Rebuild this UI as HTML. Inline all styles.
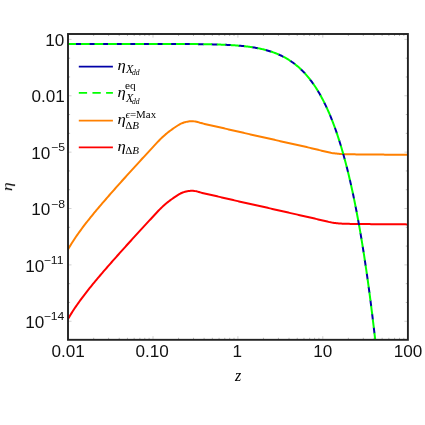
<!DOCTYPE html>
<html><head><meta charset="utf-8"><title>plot</title>
<style>
html,body{margin:0;padding:0;background:#fff;}
body{width:425px;height:425px;position:relative;overflow:hidden;font-family:"Liberation Sans",sans-serif;color:#111;}
.t{position:absolute;white-space:nowrap;line-height:1;will-change:transform;transform-origin:50% 50%;}
.tk{font-family:"Liberation Sans",sans-serif;}
.m{font-family:"Liberation Serif",serif;color:#000;}
.i{font-style:italic;}
</style></head><body>
<svg width="425" height="425" viewBox="0 0 425 425" style="position:absolute;left:0;top:0">
<defs><clipPath id="c"><rect x="68.0" y="34.0" width="339.9" height="305.8"/></clipPath></defs>
<path d="M68.0,39.40h3.5 M407.9,39.40h-3.5 M68.0,95.77h3.5 M407.9,95.77h-3.5 M68.0,152.14h3.5 M407.9,152.14h-3.5 M68.0,208.51h3.5 M407.9,208.51h-3.5 M68.0,264.88h3.5 M407.9,264.88h-3.5 M68.0,321.25h3.5 M407.9,321.25h-3.5 M153.00,339.8v-3.6 M153.00,34.0v3.6 M237.90,339.8v-3.6 M237.90,34.0v3.6 M322.80,339.8v-3.6 M322.80,34.0v3.6" stroke="#a0a0a0" stroke-width="0.5" fill="none"/>
<path d="M68.0,58.19h2.1 M407.9,58.19h-2.1 M68.0,76.98h2.1 M407.9,76.98h-2.1 M68.0,114.56h2.1 M407.9,114.56h-2.1 M68.0,133.35h2.1 M407.9,133.35h-2.1 M68.0,170.93h2.1 M407.9,170.93h-2.1 M68.0,189.72h2.1 M407.9,189.72h-2.1 M68.0,227.30h2.1 M407.9,227.30h-2.1 M68.0,246.09h2.1 M407.9,246.09h-2.1 M68.0,283.67h2.1 M407.9,283.67h-2.1 M68.0,302.46h2.1 M407.9,302.46h-2.1 M93.66,339.8v-2.0 M93.66,34.0v2.0 M108.61,339.8v-2.0 M108.61,34.0v2.0 M119.21,339.8v-2.0 M119.21,34.0v2.0 M127.44,339.8v-2.0 M127.44,34.0v2.0 M134.17,339.8v-2.0 M134.17,34.0v2.0 M139.85,339.8v-2.0 M139.85,34.0v2.0 M144.77,339.8v-2.0 M144.77,34.0v2.0 M149.12,339.8v-2.0 M149.12,34.0v2.0 M178.56,339.8v-2.0 M178.56,34.0v2.0 M193.51,339.8v-2.0 M193.51,34.0v2.0 M204.11,339.8v-2.0 M204.11,34.0v2.0 M212.34,339.8v-2.0 M212.34,34.0v2.0 M219.07,339.8v-2.0 M219.07,34.0v2.0 M224.75,339.8v-2.0 M224.75,34.0v2.0 M229.67,339.8v-2.0 M229.67,34.0v2.0 M234.02,339.8v-2.0 M234.02,34.0v2.0 M263.46,339.8v-2.0 M263.46,34.0v2.0 M278.41,339.8v-2.0 M278.41,34.0v2.0 M289.01,339.8v-2.0 M289.01,34.0v2.0 M297.24,339.8v-2.0 M297.24,34.0v2.0 M303.97,339.8v-2.0 M303.97,34.0v2.0 M309.65,339.8v-2.0 M309.65,34.0v2.0 M314.57,339.8v-2.0 M314.57,34.0v2.0 M318.92,339.8v-2.0 M318.92,34.0v2.0 M348.36,339.8v-2.0 M348.36,34.0v2.0 M363.31,339.8v-2.0 M363.31,34.0v2.0 M373.91,339.8v-2.0 M373.91,34.0v2.0 M382.14,339.8v-2.0 M382.14,34.0v2.0 M388.87,339.8v-2.0 M388.87,34.0v2.0 M394.55,339.8v-2.0 M394.55,34.0v2.0 M399.47,339.8v-2.0 M399.47,34.0v2.0 M403.82,339.8v-2.0 M403.82,34.0v2.0" stroke="#707070" stroke-width="0.5" fill="none"/>
<g clip-path="url(#c)" fill="none" stroke-linejoin="round">
<path d="M66.80,321.16 L67.95,319.13 L69.10,317.16 L70.24,315.25 L71.39,313.39 L72.54,311.58 L73.69,309.80 L74.83,308.07 L75.98,306.37 L77.13,304.71 L78.28,303.08 L79.43,301.47 L80.57,299.89 L81.72,298.33 L82.87,296.80 L84.02,295.28 L85.17,293.79 L86.31,292.31 L87.46,290.85 L88.61,289.40 L89.76,287.96 L90.90,286.54 L92.05,285.13 L93.20,283.72 L94.35,282.33 L95.50,280.95 L96.64,279.58 L97.79,278.21 L98.94,276.85 L100.09,275.50 L101.23,274.15 L102.38,272.81 L103.53,271.47 L104.68,270.14 L105.83,268.82 L106.97,267.50 L108.12,266.18 L109.27,264.87 L110.42,263.56 L111.57,262.26 L112.71,260.95 L113.86,259.65 L115.01,258.36 L116.16,257.06 L117.30,255.77 L118.45,254.49 L119.60,253.20 L120.75,251.92 L121.90,250.64 L123.04,249.36 L124.19,248.08 L125.34,246.81 L126.49,245.54 L127.63,244.27 L128.78,243.00 L129.93,241.73 L131.08,240.46 L132.23,239.20 L133.37,237.94 L134.52,236.68 L135.67,235.42 L136.82,234.16 L137.97,232.91 L139.11,231.66 L140.26,230.40 L141.41,229.15 L142.56,227.90 L143.70,226.65 L144.85,225.41 L146.00,224.16 L147.15,222.92 L148.30,221.68 L149.44,220.44 L150.59,219.20 L151.74,217.96 L152.89,216.72 L154.03,215.49 L155.18,214.25 L156.33,213.02 L157.48,211.78 L158.63,210.55 L159.77,209.39 L160.92,208.25 L162.07,207.13 L163.22,206.04 L164.37,204.99 L165.51,203.98 L166.66,203.02 L167.81,202.13 L168.96,201.27 L170.10,200.42 L171.25,199.57 L172.40,198.72 L173.55,197.89 L174.70,197.10 L175.84,196.34 L176.99,195.58 L178.14,194.84 L179.29,194.14 L180.43,193.51 L181.58,192.99 L182.73,192.55 L183.88,192.14 L185.03,191.77 L186.17,191.47 L187.32,191.24 L188.47,191.08 L189.62,190.94 L190.77,190.83 L191.91,190.80 L193.06,190.85 L194.21,190.97 L195.36,191.12 L196.50,191.31 L197.65,191.60 L198.80,191.95 L199.95,192.31 L201.10,192.63 L202.24,192.93 L203.39,193.23 L204.54,193.52 L205.69,193.79 L206.83,194.05 L207.98,194.30 L209.13,194.55 L210.28,194.80 L211.43,195.05 L212.57,195.31 L213.72,195.57 L214.87,195.83 L216.02,196.09 L217.17,196.35 L218.31,196.61 L219.46,196.88 L220.61,197.14 L221.76,197.41 L222.90,197.67 L224.05,197.94 L225.20,198.21 L226.35,198.48 L227.50,198.75 L228.64,199.02 L229.79,199.29 L230.94,199.56 L232.09,199.83 L233.23,200.09 L234.38,200.36 L235.53,200.62 L236.68,200.88 L237.83,201.15 L238.97,201.41 L240.12,201.67 L241.27,201.93 L242.42,202.19 L243.57,202.45 L244.71,202.71 L245.86,202.97 L247.01,203.23 L248.16,203.49 L249.30,203.74 L250.45,204.00 L251.60,204.26 L252.75,204.51 L253.90,204.77 L255.04,205.02 L256.19,205.27 L257.34,205.53 L258.49,205.78 L259.63,206.04 L260.78,206.29 L261.93,206.55 L263.08,206.80 L264.23,207.06 L265.37,207.32 L266.52,207.59 L267.67,207.85 L268.82,208.11 L269.97,208.37 L271.11,208.64 L272.26,208.90 L273.41,209.17 L274.56,209.43 L275.70,209.70 L276.85,209.97 L278.00,210.23 L279.15,210.50 L280.30,210.76 L281.44,211.03 L282.59,211.29 L283.74,211.56 L284.89,211.82 L286.03,212.08 L287.18,212.34 L288.33,212.60 L289.48,212.86 L290.63,213.12 L291.77,213.37 L292.92,213.63 L294.07,213.89 L295.22,214.14 L296.37,214.39 L297.51,214.65 L298.66,214.90 L299.81,215.16 L300.96,215.41 L302.10,215.67 L303.25,215.93 L304.40,216.18 L305.55,216.44 L306.70,216.70 L307.84,216.97 L308.99,217.23 L310.14,217.49 L311.29,217.76 L312.43,218.03 L313.58,218.31 L314.73,218.59 L315.88,218.87 L317.03,219.15 L318.17,219.43 L319.32,219.71 L320.47,219.99 L321.62,220.26 L322.77,220.53 L323.91,220.79 L325.06,221.05 L326.21,221.32 L327.36,221.59 L328.50,221.85 L329.65,222.11 L330.80,222.35 L331.95,222.56 L333.10,222.74 L334.24,222.90 L335.39,223.04 L336.54,223.18 L337.69,223.30 L338.83,223.42 L339.98,223.52 L341.13,223.60 L342.28,223.67 L343.43,223.72 L344.57,223.75 L345.72,223.79 L346.87,223.82 L348.02,223.85 L349.17,223.87 L350.31,223.90 L351.46,223.92 L352.61,223.94 L353.76,223.96 L354.90,223.97 L356.05,223.99 L357.20,224.00 L358.35,224.02 L359.50,224.03 L360.64,224.04 L361.79,224.05 L362.94,224.07 L364.09,224.08 L365.23,224.09 L366.38,224.10 L367.53,224.10 L368.68,224.11 L369.83,224.12 L370.97,224.13 L372.12,224.14 L373.27,224.15 L374.42,224.16 L375.57,224.16 L376.71,224.17 L377.86,224.18 L379.01,224.19 L380.16,224.20 L381.30,224.21 L382.45,224.21 L383.60,224.22 L384.75,224.23 L385.90,224.24 L387.04,224.25 L388.19,224.26 L389.34,224.26 L390.49,224.27 L391.63,224.28 L392.78,224.29 L393.93,224.30 L395.08,224.30 L396.23,224.31 L397.37,224.32 L398.52,224.33 L399.67,224.34 L400.82,224.34 L401.97,224.35 L403.11,224.36 L404.26,224.37 L405.41,224.37 L406.56,224.38 L407.70,224.39 L408.85,224.39 L410.00,224.40" stroke="#ff0000" stroke-width="2"/>
<path d="M66.80,251.56 L67.95,249.53 L69.10,247.56 L70.24,245.65 L71.39,243.79 L72.54,241.98 L73.69,240.20 L74.83,238.47 L75.98,236.77 L77.13,235.11 L78.28,233.48 L79.43,231.87 L80.57,230.29 L81.72,228.73 L82.87,227.20 L84.02,225.68 L85.17,224.19 L86.31,222.71 L87.46,221.25 L88.61,219.80 L89.76,218.36 L90.90,216.94 L92.05,215.53 L93.20,214.12 L94.35,212.73 L95.50,211.35 L96.64,209.98 L97.79,208.61 L98.94,207.25 L100.09,205.90 L101.23,204.55 L102.38,203.21 L103.53,201.87 L104.68,200.54 L105.83,199.22 L106.97,197.90 L108.12,196.58 L109.27,195.27 L110.42,193.96 L111.57,192.66 L112.71,191.35 L113.86,190.05 L115.01,188.76 L116.16,187.46 L117.30,186.17 L118.45,184.89 L119.60,183.60 L120.75,182.32 L121.90,181.04 L123.04,179.76 L124.19,178.48 L125.34,177.21 L126.49,175.94 L127.63,174.67 L128.78,173.40 L129.93,172.13 L131.08,170.86 L132.23,169.60 L133.37,168.34 L134.52,167.08 L135.67,165.82 L136.82,164.56 L137.97,163.31 L139.11,162.06 L140.26,160.80 L141.41,159.55 L142.56,158.30 L143.70,157.05 L144.85,155.81 L146.00,154.56 L147.15,153.32 L148.30,152.08 L149.44,150.84 L150.59,149.60 L151.74,148.36 L152.89,147.12 L154.03,145.89 L155.18,144.65 L156.33,143.42 L157.48,142.18 L158.63,140.95 L159.77,139.79 L160.92,138.65 L162.07,137.53 L163.22,136.44 L164.37,135.39 L165.51,134.38 L166.66,133.42 L167.81,132.53 L168.96,131.67 L170.10,130.82 L171.25,129.97 L172.40,129.12 L173.55,128.29 L174.70,127.50 L175.84,126.74 L176.99,125.98 L178.14,125.24 L179.29,124.54 L180.43,123.91 L181.58,123.39 L182.73,122.95 L183.88,122.54 L185.03,122.17 L186.17,121.87 L187.32,121.64 L188.47,121.48 L189.62,121.34 L190.77,121.23 L191.91,121.20 L193.06,121.25 L194.21,121.37 L195.36,121.52 L196.50,121.71 L197.65,122.00 L198.80,122.35 L199.95,122.71 L201.10,123.03 L202.24,123.33 L203.39,123.63 L204.54,123.92 L205.69,124.19 L206.83,124.45 L207.98,124.70 L209.13,124.95 L210.28,125.20 L211.43,125.45 L212.57,125.71 L213.72,125.97 L214.87,126.23 L216.02,126.49 L217.17,126.75 L218.31,127.01 L219.46,127.28 L220.61,127.54 L221.76,127.81 L222.90,128.07 L224.05,128.34 L225.20,128.61 L226.35,128.88 L227.50,129.15 L228.64,129.42 L229.79,129.69 L230.94,129.96 L232.09,130.23 L233.23,130.49 L234.38,130.76 L235.53,131.02 L236.68,131.28 L237.83,131.55 L238.97,131.81 L240.12,132.07 L241.27,132.33 L242.42,132.59 L243.57,132.85 L244.71,133.11 L245.86,133.37 L247.01,133.63 L248.16,133.89 L249.30,134.14 L250.45,134.40 L251.60,134.66 L252.75,134.91 L253.90,135.17 L255.04,135.42 L256.19,135.67 L257.34,135.93 L258.49,136.18 L259.63,136.44 L260.78,136.69 L261.93,136.95 L263.08,137.20 L264.23,137.46 L265.37,137.72 L266.52,137.99 L267.67,138.25 L268.82,138.51 L269.97,138.77 L271.11,139.04 L272.26,139.30 L273.41,139.57 L274.56,139.83 L275.70,140.10 L276.85,140.37 L278.00,140.63 L279.15,140.90 L280.30,141.16 L281.44,141.43 L282.59,141.69 L283.74,141.96 L284.89,142.22 L286.03,142.48 L287.18,142.74 L288.33,143.00 L289.48,143.26 L290.63,143.52 L291.77,143.77 L292.92,144.03 L294.07,144.29 L295.22,144.54 L296.37,144.79 L297.51,145.05 L298.66,145.30 L299.81,145.56 L300.96,145.81 L302.10,146.07 L303.25,146.33 L304.40,146.58 L305.55,146.84 L306.70,147.10 L307.84,147.37 L308.99,147.63 L310.14,147.89 L311.29,148.16 L312.43,148.43 L313.58,148.71 L314.73,148.99 L315.88,149.27 L317.03,149.55 L318.17,149.83 L319.32,150.11 L320.47,150.39 L321.62,150.66 L322.77,150.93 L323.91,151.19 L325.06,151.45 L326.21,151.72 L327.36,151.99 L328.50,152.25 L329.65,152.51 L330.80,152.75 L331.95,152.96 L333.10,153.14 L334.24,153.30 L335.39,153.44 L336.54,153.58 L337.69,153.70 L338.83,153.82 L339.98,153.92 L341.13,154.00 L342.28,154.07 L343.43,154.12 L344.57,154.15 L345.72,154.19 L346.87,154.22 L348.02,154.25 L349.17,154.27 L350.31,154.30 L351.46,154.32 L352.61,154.34 L353.76,154.36 L354.90,154.37 L356.05,154.39 L357.20,154.40 L358.35,154.42 L359.50,154.43 L360.64,154.44 L361.79,154.45 L362.94,154.47 L364.09,154.48 L365.23,154.49 L366.38,154.50 L367.53,154.50 L368.68,154.51 L369.83,154.52 L370.97,154.53 L372.12,154.54 L373.27,154.55 L374.42,154.56 L375.57,154.56 L376.71,154.57 L377.86,154.58 L379.01,154.59 L380.16,154.60 L381.30,154.61 L382.45,154.61 L383.60,154.62 L384.75,154.63 L385.90,154.64 L387.04,154.65 L388.19,154.66 L389.34,154.66 L390.49,154.67 L391.63,154.68 L392.78,154.69 L393.93,154.70 L395.08,154.70 L396.23,154.71 L397.37,154.72 L398.52,154.73 L399.67,154.74 L400.82,154.74 L401.97,154.75 L403.11,154.76 L404.26,154.77 L405.41,154.77 L406.56,154.78 L407.70,154.79 L408.85,154.79 L410.00,154.80" stroke="#ff8000" stroke-width="2"/>
<path d="M68.10,43.90 L68.95,43.90 L69.80,43.90 L70.65,43.90 L71.50,43.90 L72.36,43.90 L73.21,43.90 L74.06,43.90 L74.91,43.90 L75.76,43.90 L76.61,43.90 L77.46,43.90 L78.31,43.90 L79.16,43.90 L80.02,43.90 L80.87,43.90 L81.72,43.90 L82.57,43.90 L83.42,43.90 L84.27,43.90 L85.12,43.90 L85.97,43.90 L86.82,43.90 L87.68,43.90 L88.53,43.90 L89.38,43.90 L90.23,43.90 L91.08,43.90 L91.93,43.90 L92.78,43.90 L93.63,43.90 L94.48,43.90 L95.34,43.90 L96.19,43.90 L97.04,43.90 L97.89,43.90 L98.74,43.90 L99.59,43.90 L100.44,43.90 L101.29,43.90 L102.15,43.90 L103.00,43.90 L103.85,43.90 L104.70,43.90 L105.55,43.90 L106.40,43.90 L107.25,43.90 L108.10,43.90 L108.95,43.90 L109.81,43.90 L110.66,43.90 L111.51,43.90 L112.36,43.90 L113.21,43.90 L114.06,43.90 L114.91,43.90 L115.76,43.90 L116.61,43.90 L117.47,43.90 L118.32,43.90 L119.17,43.90 L120.02,43.90 L120.87,43.90 L121.72,43.90 L122.57,43.90 L123.42,43.90 L124.27,43.90 L125.13,43.90 L125.98,43.90 L126.83,43.90 L127.68,43.91 L128.53,43.91 L129.38,43.91 L130.23,43.91 L131.08,43.91 L131.93,43.91 L132.79,43.91 L133.64,43.91 L134.49,43.91 L135.34,43.91 L136.19,43.91 L137.04,43.91 L137.89,43.91 L138.74,43.91 L139.59,43.91 L140.45,43.91 L141.30,43.91 L142.15,43.91 L143.00,43.91 L143.85,43.91 L144.70,43.91 L145.55,43.91 L146.40,43.91 L147.25,43.91 L148.11,43.92 L148.96,43.92 L149.81,43.92 L150.66,43.92 L151.51,43.92 L152.36,43.92 L153.21,43.92 L154.06,43.92 L154.92,43.92 L155.77,43.92 L156.62,43.92 L157.47,43.93 L158.32,43.93 L159.17,43.93 L160.02,43.93 L160.87,43.93 L161.72,43.93 L162.58,43.93 L163.43,43.94 L164.28,43.94 L165.13,43.94 L165.98,43.94 L166.83,43.94 L167.68,43.94 L168.53,43.95 L169.38,43.95 L170.24,43.95 L171.09,43.95 L171.94,43.96 L172.79,43.96 L173.64,43.96 L174.49,43.96 L175.34,43.97 L176.19,43.97 L177.04,43.97 L177.90,43.98 L178.75,43.98 L179.60,43.98 L180.45,43.99 L181.30,43.99 L182.15,44.00 L183.00,44.00 L183.85,44.01 L184.70,44.01 L185.56,44.02 L186.41,44.02 L187.26,44.03 L188.11,44.03 L188.96,44.04 L189.81,44.05 L190.66,44.05 L191.51,44.06 L192.36,44.07 L193.22,44.07 L194.07,44.08 L194.92,44.09 L195.77,44.10 L196.62,44.11 L197.47,44.12 L198.32,44.13 L199.17,44.14 L200.02,44.15 L200.88,44.16 L201.73,44.17 L202.58,44.18 L203.43,44.20 L204.28,44.21 L205.13,44.23 L205.98,44.24 L206.83,44.26 L207.68,44.27 L208.54,44.29 L209.39,44.31 L210.24,44.32 L211.09,44.34 L211.94,44.36 L212.79,44.38 L213.64,44.40 L214.49,44.43 L215.35,44.45 L216.20,44.48 L217.05,44.50 L217.90,44.53 L218.75,44.56 L219.60,44.58 L220.45,44.61 L221.30,44.65 L222.15,44.68 L223.01,44.71 L223.86,44.75 L224.71,44.78 L225.56,44.82 L226.41,44.86 L227.26,44.91 L228.11,44.95 L228.96,44.99 L229.81,45.04 L230.67,45.09 L231.52,45.14 L232.37,45.19 L233.22,45.25 L234.07,45.31 L234.92,45.37 L235.77,45.43 L236.62,45.49 L237.47,45.56 L238.33,45.63 L239.18,45.70 L240.03,45.78 L240.88,45.86 L241.73,45.94 L242.58,46.02 L243.43,46.11 L244.28,46.20 L245.13,46.30 L245.99,46.39 L246.84,46.50 L247.69,46.60 L248.54,46.71 L249.39,46.83 L250.24,46.94 L251.09,47.07 L251.94,47.19 L252.79,47.32 L253.65,47.46 L254.50,47.60 L255.35,47.75 L256.20,47.90 L257.05,48.06 L257.90,48.22 L258.75,48.39 L259.60,48.56 L260.45,48.74 L261.31,48.93 L262.16,49.13 L263.01,49.33 L263.86,49.53 L264.71,49.75 L265.56,49.97 L266.41,50.20 L267.26,50.44 L268.12,50.68 L268.97,50.94 L269.82,51.20 L270.67,51.47 L271.52,51.75 L272.37,52.04 L273.22,52.34 L274.07,52.65 L274.92,52.97 L275.78,53.29 L276.63,53.63 L277.48,53.99 L278.33,54.35 L279.18,54.72 L280.03,55.11 L280.88,55.50 L281.73,55.92 L282.58,56.34 L283.44,56.77 L284.29,57.22 L285.14,57.69 L285.99,58.17 L286.84,58.66 L287.69,59.17 L288.54,59.69 L289.39,60.23 L290.24,60.79 L291.10,61.36 L291.95,61.95 L292.80,62.56 L293.65,63.18 L294.50,63.83 L295.35,64.49 L296.20,65.17 L297.05,65.88 L297.90,66.60 L298.76,67.34 L299.61,68.11 L300.46,68.90 L301.31,69.71 L302.16,70.54 L303.01,71.40 L303.86,72.28 L304.71,73.19 L305.56,74.12 L306.42,75.08 L307.27,76.07 L308.12,77.08 L308.97,78.13 L309.82,79.20 L310.67,80.30 L311.52,81.43 L312.37,82.59 L313.22,83.79 L314.08,85.01 L314.93,86.27 L315.78,87.57 L316.63,88.90 L317.48,90.27 L318.33,91.67 L319.18,93.11 L320.03,94.59 L320.88,96.11 L321.74,97.67 L322.59,99.27 L323.44,100.91 L324.29,102.60 L325.14,104.33 L325.99,106.11 L326.84,107.94 L327.69,109.81 L328.55,111.73 L329.40,113.70 L330.25,115.72 L331.10,117.80 L331.95,119.93 L332.80,122.12 L333.65,124.36 L334.50,126.66 L335.35,129.01 L336.21,131.43 L337.06,133.92 L337.91,136.46 L338.76,139.07 L339.61,141.75 L340.46,144.49 L341.31,147.31 L342.16,150.19 L343.01,153.15 L343.87,156.18 L344.72,159.29 L345.57,162.48 L346.42,165.75 L347.27,169.10 L348.12,172.54 L348.97,176.06 L349.82,179.67 L350.67,183.37 L351.53,187.16 L352.38,191.04 L353.23,195.03 L354.08,199.11 L354.93,203.29 L355.78,207.58 L356.63,211.97 L357.48,216.47 L358.33,221.08 L359.19,225.81 L360.04,230.65 L360.89,235.61 L361.74,240.69 L362.59,245.90 L363.44,251.24 L364.29,256.70 L365.14,262.30 L365.99,268.04 L366.85,273.92 L367.70,279.94 L368.55,286.11 L369.40,292.42 L370.25,298.89 L371.10,305.52 L371.95,312.31 L372.80,319.27 L373.65,326.39 L374.51,333.68 L375.36,341.15" stroke="#0000a8" stroke-width="2" stroke-dasharray="5.92 7.68" stroke-dashoffset="6.22"/>
<path d="M68.10,43.90 L68.95,43.90 L69.80,43.90 L70.65,43.90 L71.50,43.90 L72.36,43.90 L73.21,43.90 L74.06,43.90 L74.91,43.90 L75.76,43.90 L76.61,43.90 L77.46,43.90 L78.31,43.90 L79.16,43.90 L80.02,43.90 L80.87,43.90 L81.72,43.90 L82.57,43.90 L83.42,43.90 L84.27,43.90 L85.12,43.90 L85.97,43.90 L86.82,43.90 L87.68,43.90 L88.53,43.90 L89.38,43.90 L90.23,43.90 L91.08,43.90 L91.93,43.90 L92.78,43.90 L93.63,43.90 L94.48,43.90 L95.34,43.90 L96.19,43.90 L97.04,43.90 L97.89,43.90 L98.74,43.90 L99.59,43.90 L100.44,43.90 L101.29,43.90 L102.15,43.90 L103.00,43.90 L103.85,43.90 L104.70,43.90 L105.55,43.90 L106.40,43.90 L107.25,43.90 L108.10,43.90 L108.95,43.90 L109.81,43.90 L110.66,43.90 L111.51,43.90 L112.36,43.90 L113.21,43.90 L114.06,43.90 L114.91,43.90 L115.76,43.90 L116.61,43.90 L117.47,43.90 L118.32,43.90 L119.17,43.90 L120.02,43.90 L120.87,43.90 L121.72,43.90 L122.57,43.90 L123.42,43.90 L124.27,43.90 L125.13,43.90 L125.98,43.90 L126.83,43.90 L127.68,43.91 L128.53,43.91 L129.38,43.91 L130.23,43.91 L131.08,43.91 L131.93,43.91 L132.79,43.91 L133.64,43.91 L134.49,43.91 L135.34,43.91 L136.19,43.91 L137.04,43.91 L137.89,43.91 L138.74,43.91 L139.59,43.91 L140.45,43.91 L141.30,43.91 L142.15,43.91 L143.00,43.91 L143.85,43.91 L144.70,43.91 L145.55,43.91 L146.40,43.91 L147.25,43.91 L148.11,43.92 L148.96,43.92 L149.81,43.92 L150.66,43.92 L151.51,43.92 L152.36,43.92 L153.21,43.92 L154.06,43.92 L154.92,43.92 L155.77,43.92 L156.62,43.92 L157.47,43.93 L158.32,43.93 L159.17,43.93 L160.02,43.93 L160.87,43.93 L161.72,43.93 L162.58,43.93 L163.43,43.94 L164.28,43.94 L165.13,43.94 L165.98,43.94 L166.83,43.94 L167.68,43.94 L168.53,43.95 L169.38,43.95 L170.24,43.95 L171.09,43.95 L171.94,43.96 L172.79,43.96 L173.64,43.96 L174.49,43.96 L175.34,43.97 L176.19,43.97 L177.04,43.97 L177.90,43.98 L178.75,43.98 L179.60,43.98 L180.45,43.99 L181.30,43.99 L182.15,44.00 L183.00,44.00 L183.85,44.01 L184.70,44.01 L185.56,44.02 L186.41,44.02 L187.26,44.03 L188.11,44.03 L188.96,44.04 L189.81,44.05 L190.66,44.05 L191.51,44.06 L192.36,44.07 L193.22,44.07 L194.07,44.08 L194.92,44.09 L195.77,44.10 L196.62,44.11 L197.47,44.12 L198.32,44.13 L199.17,44.14 L200.02,44.15 L200.88,44.16 L201.73,44.17 L202.58,44.18 L203.43,44.20 L204.28,44.21 L205.13,44.23 L205.98,44.24 L206.83,44.26 L207.68,44.27 L208.54,44.29 L209.39,44.31 L210.24,44.32 L211.09,44.34 L211.94,44.36 L212.79,44.38 L213.64,44.40 L214.49,44.43 L215.35,44.45 L216.20,44.48 L217.05,44.50 L217.90,44.53 L218.75,44.56 L219.60,44.58 L220.45,44.61 L221.30,44.65 L222.15,44.68 L223.01,44.71 L223.86,44.75 L224.71,44.78 L225.56,44.82 L226.41,44.86 L227.26,44.91 L228.11,44.95 L228.96,44.99 L229.81,45.04 L230.67,45.09 L231.52,45.14 L232.37,45.19 L233.22,45.25 L234.07,45.31 L234.92,45.37 L235.77,45.43 L236.62,45.49 L237.47,45.56 L238.33,45.63 L239.18,45.70 L240.03,45.78 L240.88,45.86 L241.73,45.94 L242.58,46.02 L243.43,46.11 L244.28,46.20 L245.13,46.30 L245.99,46.39 L246.84,46.50 L247.69,46.60 L248.54,46.71 L249.39,46.83 L250.24,46.94 L251.09,47.07 L251.94,47.19 L252.79,47.32 L253.65,47.46 L254.50,47.60 L255.35,47.75 L256.20,47.90 L257.05,48.06 L257.90,48.22 L258.75,48.39 L259.60,48.56 L260.45,48.74 L261.31,48.93 L262.16,49.13 L263.01,49.33 L263.86,49.53 L264.71,49.75 L265.56,49.97 L266.41,50.20 L267.26,50.44 L268.12,50.68 L268.97,50.94 L269.82,51.20 L270.67,51.47 L271.52,51.75 L272.37,52.04 L273.22,52.34 L274.07,52.65 L274.92,52.97 L275.78,53.29 L276.63,53.63 L277.48,53.99 L278.33,54.35 L279.18,54.72 L280.03,55.11 L280.88,55.50 L281.73,55.92 L282.58,56.34 L283.44,56.77 L284.29,57.22 L285.14,57.69 L285.99,58.17 L286.84,58.66 L287.69,59.17 L288.54,59.69 L289.39,60.23 L290.24,60.79 L291.10,61.36 L291.95,61.95 L292.80,62.56 L293.65,63.18 L294.50,63.83 L295.35,64.49 L296.20,65.17 L297.05,65.88 L297.90,66.60 L298.76,67.34 L299.61,68.11 L300.46,68.90 L301.31,69.71 L302.16,70.54 L303.01,71.40 L303.86,72.28 L304.71,73.19 L305.56,74.12 L306.42,75.08 L307.27,76.07 L308.12,77.08 L308.97,78.13 L309.82,79.20 L310.67,80.30 L311.52,81.43 L312.37,82.59 L313.22,83.79 L314.08,85.01 L314.93,86.27 L315.78,87.57 L316.63,88.90 L317.48,90.27 L318.33,91.67 L319.18,93.11 L320.03,94.59 L320.88,96.11 L321.74,97.67 L322.59,99.27 L323.44,100.91 L324.29,102.60 L325.14,104.33 L325.99,106.11 L326.84,107.94 L327.69,109.81 L328.55,111.73 L329.40,113.70 L330.25,115.72 L331.10,117.80 L331.95,119.93 L332.80,122.12 L333.65,124.36 L334.50,126.66 L335.35,129.01 L336.21,131.43 L337.06,133.92 L337.91,136.46 L338.76,139.07 L339.61,141.75 L340.46,144.49 L341.31,147.31 L342.16,150.19 L343.01,153.15 L343.87,156.18 L344.72,159.29 L345.57,162.48 L346.42,165.75 L347.27,169.10 L348.12,172.54 L348.97,176.06 L349.82,179.67 L350.67,183.37 L351.53,187.16 L352.38,191.04 L353.23,195.03 L354.08,199.11 L354.93,203.29 L355.78,207.58 L356.63,211.97 L357.48,216.47 L358.33,221.08 L359.19,225.81 L360.04,230.65 L360.89,235.61 L361.74,240.69 L362.59,245.90 L363.44,251.24 L364.29,256.70 L365.14,262.30 L365.99,268.04 L366.85,273.92 L367.70,279.94 L368.55,286.11 L369.40,292.42 L370.25,298.89 L371.10,305.52 L371.95,312.31 L372.80,319.27 L373.65,326.39 L374.51,333.68 L375.36,341.15" stroke="#00ff00" stroke-width="2" stroke-dasharray="8.68 4.92" stroke-dashoffset="0.8"/>
</g>
<rect x="68.0" y="34.0" width="339.9" height="305.8" fill="none" stroke="#222" stroke-width="1.9"/>
<path d="M78.8,66.5H112.9" stroke="#0000a8" stroke-width="1.75"/>
<path d="M78.8,92.8H112.9" stroke="#00ff00" stroke-width="1.8" stroke-dasharray="8.3 5.35"/>
<path d="M78.8,120.7H112.9" stroke="#ff8000" stroke-width="1.75"/>
<path d="M78.8,147.4H112.9" stroke="#ff0000" stroke-width="1.75"/>
</svg>
<div id="y0" class="t tk" style="left:45.88px;top:32.80px;font-size:15.6px;transform:scaleX(1.1)">10</div>
<div id="y1" class="t tk" style="left:32.90px;top:89.20px;font-size:15.6px;transform:scaleX(1.1)">0.01</div>
<div id="y2b" class="t tk" style="left:31.78px;top:145.50px;font-size:15.6px;transform:scaleX(1.1)">10</div>
<div id="y2e" class="t tk" style="left:51.85px;top:141.80px;font-size:10.6px;transform:scaleX(1.15)">−5</div>
<div id="y3b" class="t tk" style="left:31.78px;top:202.10px;font-size:15.6px;transform:scaleX(1.1)">10</div>
<div id="y3e" class="t tk" style="left:51.79px;top:198.80px;font-size:10.6px;transform:scaleX(1.15)">−8</div>
<div id="y4b" class="t tk" style="left:25.68px;top:258.50px;font-size:15.6px;transform:scaleX(1.1)">10</div>
<div id="y4e" class="t tk" style="left:44.64px;top:254.80px;font-size:10.6px;transform:scaleX(1.15)">−11</div>
<div id="y5b" class="t tk" style="left:25.68px;top:314.50px;font-size:15.6px;transform:scaleX(1.1)">10</div>
<div id="y5e" class="t tk" style="left:45.01px;top:311.40px;font-size:10.6px;transform:scaleX(1.15)">−14</div>
<div id="x0" class="t tk" style="left:53.10px;top:343.80px;font-size:15.6px;transform:scaleX(1.1)">0.01</div>
<div id="x1" class="t tk" style="left:137.28px;top:343.80px;font-size:15.6px;transform:scaleX(1.1)">0.10</div>
<div id="x2" class="t tk" style="left:233.21px;top:343.80px;font-size:15.6px;transform:scaleX(1.1)">1</div>
<div id="x3" class="t tk" style="left:313.58px;top:343.80px;font-size:15.6px;transform:scaleX(1.1)">10</div>
<div id="x4" class="t tk" style="left:395.10px;top:343.80px;font-size:15.6px;transform:scaleX(1.1)">100</div>
<div id="zl" class="t m i" style="left:235.26px;top:367.60px;font-size:16px;transform:scaleX(1.0)">z</div>
<div id="el" class="t m i" style="left:3.05px;top:179.10px;font-size:15.5px;transform:rotate(-90deg) scaleX(1.13)">η</div>
<div id="l0" class="t m i" style="left:117.51px;top:56.80px;font-size:15.2px;transform:scaleX(1.1)">η</div>
<div id="l0x" class="t m i" style="left:125.76px;top:62.50px;font-size:12px;transform:scaleX(1.0)">X</div>
<div id="l0d" class="t m i" style="left:132.10px;top:69.10px;font-size:7.6px;transform:scaleX(1.0)">dd</div>
<div id="l1" class="t m i" style="left:117.51px;top:83.80px;font-size:15.2px;transform:scaleX(1.1)">η</div>
<div id="l1p" class="t m" style="left:125.15px;top:79.60px;font-size:11.3px;transform:scaleX(1.0)">eq</div>
<div id="l1x" class="t m i" style="left:125.76px;top:92.10px;font-size:12px;transform:scaleX(1.0)">X</div>
<div id="l1d" class="t m i" style="left:132.10px;top:98.10px;font-size:7.6px;transform:scaleX(1.0)">dd</div>
<div id="l2" class="t m i" style="left:117.81px;top:111.30px;font-size:15.2px;transform:scaleX(1.1)">η</div>
<div id="l2p" class="t m" style="left:125.94px;top:110.00px;font-size:10.6px;transform:scaleX(1.03)"><span class="i">ϵ</span>=Max</div>
<div id="l2s" class="t m" style="left:125.72px;top:120.80px;font-size:9.8px;transform:scaleX(1.12)">Δ<span class="i">B</span></div>
<div id="l3" class="t m i" style="left:118.31px;top:138.40px;font-size:15.2px;transform:scaleX(1.1)">η</div>
<div id="l3s" class="t m" style="left:125.72px;top:145.60px;font-size:9.8px;transform:scaleX(1.12)">Δ<span class="i">B</span></div>
</body></html>
